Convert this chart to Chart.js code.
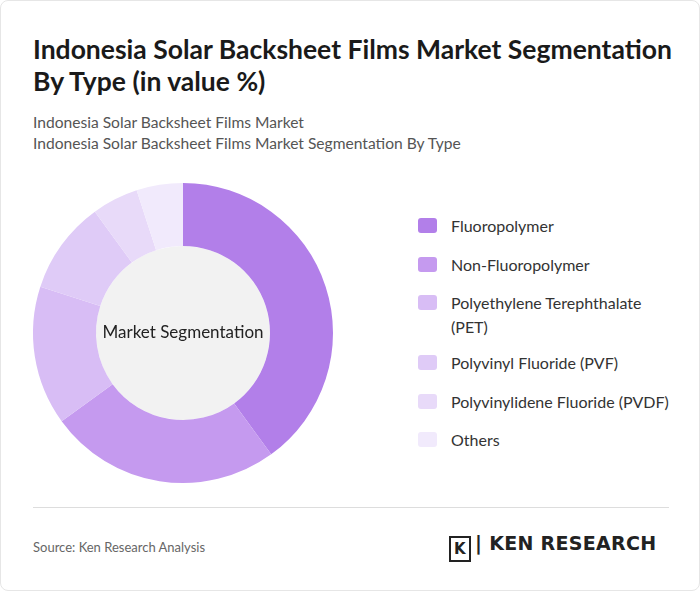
<!DOCTYPE html>
<html><head><meta charset="utf-8">
<script src="https://cdn.jsdelivr.net/npm/chart.js"></script>
<style>
body{margin:0;background:#fff;font-family:Lato,sans-serif;}
#card{position:absolute;left:0;top:0;width:698px;height:589px;border:1px solid #e6e6e6;border-radius:8px;background:#fff;}
h1{position:absolute;left:32px;top:32px;margin:0;font-size:26.5px;line-height:32px;font-weight:700;color:#1a1a1a;width:680px;white-space:nowrap;}
.sub{position:absolute;left:32px;font-size:15.6px;color:#555;}
#cw{position:absolute;left:22px;top:172px;width:320px;height:320px;}
.leg{position:absolute;left:418px;font-size:16px;color:#333;line-height:24px;}
.sw{position:absolute;left:-1px;top:4px;width:19px;height:15px;border-radius:3px;}
.lt{margin-left:32px;}
#hr{position:absolute;left:32px;top:506px;width:636px;border-top:1px solid #ddd;}
#src{position:absolute;left:32px;top:538px;font-size:13px;color:#666;}
#logo{position:absolute;left:448px;top:531px;font-size:19px;font-weight:600;color:#222;letter-spacing:0.3px;font-family:"DejaVu Sans",sans-serif;}
</style></head><body>
<div id="card">
<h1>Indonesia Solar Backsheet Films Market Segmentation<br>By Type (in value %)</h1>
<div class="sub" style="top:112px">Indonesia Solar Backsheet Films Market</div>
<div class="sub" style="top:133px">Indonesia Solar Backsheet Films Market Segmentation By Type</div>
<div id="cw"><canvas id="c"></canvas></div>
<div id="legend"></div>
<div id="hr"></div>
<div id="src">Source: Ken Research Analysis</div>
<div id="logo"><span style="display:inline-block;width:18px;height:22px;border:2px solid #222;vertical-align:-4px;margin-right:4px;font-size:15px;text-align:center;line-height:22px">K</span>| KEN RESEARCH</div>
</div>
<script>
const categories=["Fluoropolymer","Non-Fluoropolymer","Polyethylene Terephthalate (PET)","Polyvinyl Fluoride (PVF)","Polyvinylidene Fluoride (PVDF)","Others"];
const legendLines=[["Fluoropolymer"],["Non-Fluoropolymer"],["Polyethylene Terephthalate","(PET)"],["Polyvinyl Fluoride (PVF)"],["Polyvinylidene Fluoride (PVDF)"],["Others"]];
const values=[40,25,15,10,5,5];
const colors=["#b27fe9","#c59aef","#d8bdf5","#dfcbf7","#e8daf9","#f1eafc"];
const tops=[213,252,290,350,389,427];
const lg=document.getElementById('legend');
legendLines.forEach((l,i)=>{const d=document.createElement('div');d.className='leg';d.style.top=tops[i]+'px';
d.innerHTML='<div class="sw" style="background:'+colors[i]+'"></div><div class="lt">'+l.join('<br>')+'</div>';lg.appendChild(d);});
const centerPlugin={id:'cp',beforeDatasetsDraw(ch){const m=ch.getDatasetMeta(0).data[0];const x=ch.ctx;x.save();x.beginPath();x.arc(m.x,m.y,m.innerRadius,0,Math.PI*2);x.fillStyle='#f2f2f2';x.fill();
x.fillStyle='#222';x.font='17px Lato';x.textAlign='center';x.textBaseline='middle';x.fillText('Market Segmentation',m.x,m.y);x.restore();}};
new Chart(document.getElementById('c'),{type:'doughnut',data:{labels:categories,datasets:[{data:values,backgroundColor:colors,borderWidth:0}]},
options:{responsive:true,maintainAspectRatio:false,animation:false,cutout:'58%',layout:{padding:10},plugins:{legend:{display:false},tooltip:{enabled:false}}},plugins:[centerPlugin]});
</script>
</body></html>
